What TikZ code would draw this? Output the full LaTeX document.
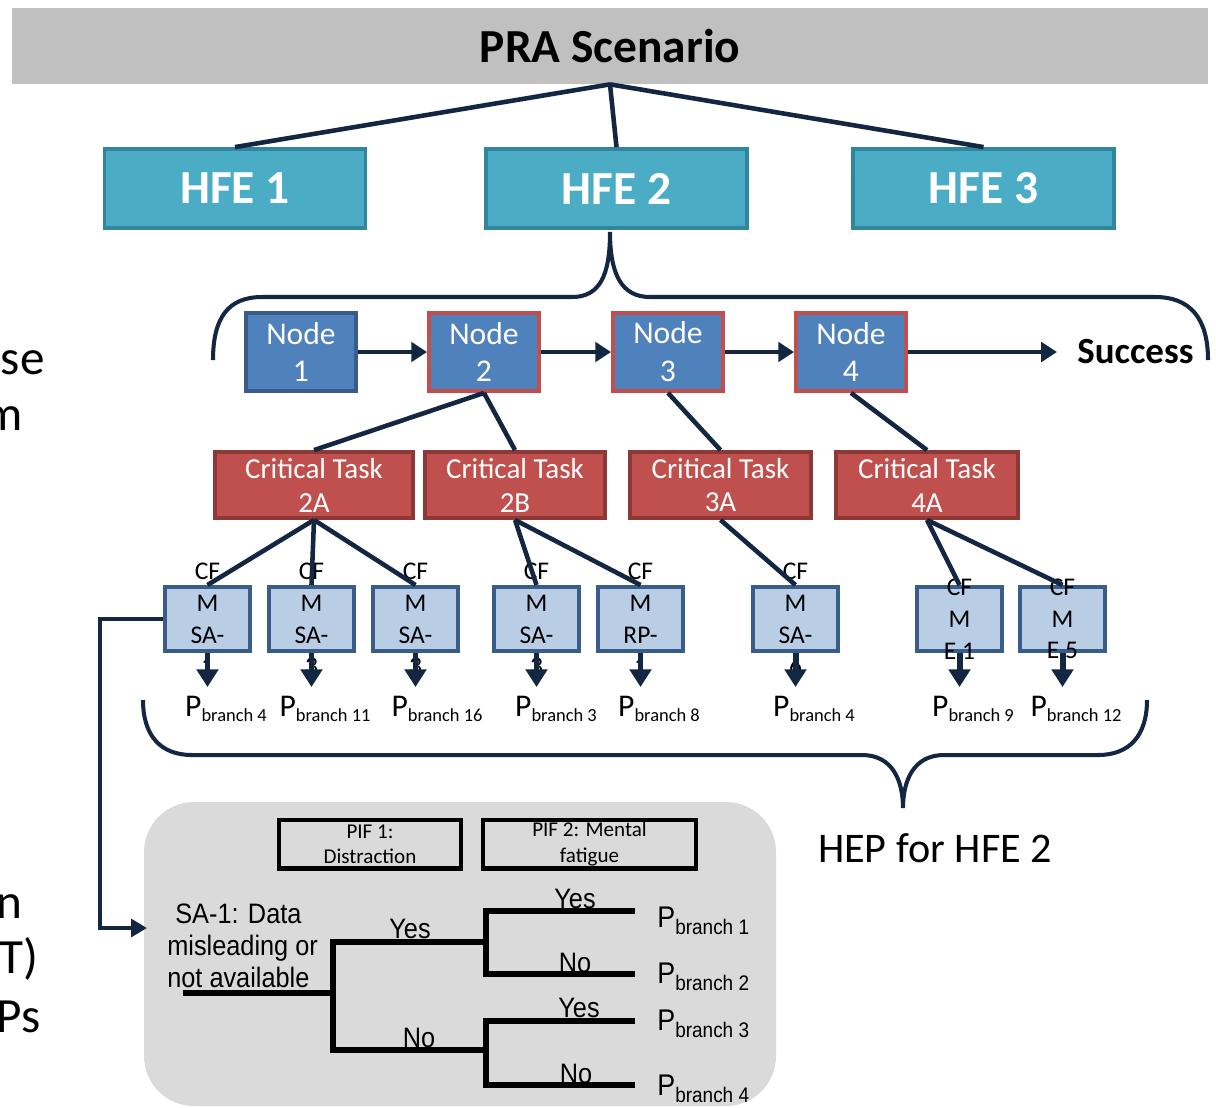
\documentclass[tikz,border=0pt]{standalone}
\usepackage{fontspec}
\setmainfont{Carlito}
\newfontfamily\treefont[FakeStretch=0.9]{Liberation Sans}
\usetikzlibrary{arrows.meta}

\definecolor{navy}{RGB}{19,39,66}
\definecolor{barfill}{RGB}{192,192,192}
\definecolor{hfefill}{RGB}{75,172,198}
\definecolor{hfeline}{RGB}{49,133,156}
\definecolor{nodefill}{RGB}{79,129,189}
\definecolor{nodeline}{RGB}{56,93,138}
\definecolor{redline}{RGB}{192,80,77}
\definecolor{critfill}{RGB}{192,80,77}
\definecolor{critline}{RGB}{140,56,54}
\definecolor{cfmfill}{RGB}{185,205,229}
\definecolor{panelfill}{RGB}{218,218,218}

% P with a lowered "branch n"
\newcommand\pbranch[1]{P\raisebox{-3pt}{\fontsize{10.5}{12}\selectfont branch #1}}
\newcommand\tbranch[1]{P\raisebox{-4pt}{\fontsize{12}{14}\selectfont branch #1}}

\tikzset{
  link/.style={navy, line width=2.6pt},
  brace/.style={navy, line width=2.3pt},
  flow/.style={navy, line width=2.8pt, -{Triangle[length=9pt,width=11pt]}},
  drop/.style={navy, line width=3.4pt, -{Triangle[length=10pt,width=12pt]}},
  topbar/.style={fill=barfill, minimum width=23.92cm, minimum height=1.52cm, inner sep=0pt, font=\fontsize{27}{30}\selectfont\bfseries},
  hfebox/.style={draw=hfeline, fill=hfefill, line width=2.2pt, minimum width=5.22cm, minimum height=1.58cm, inner sep=0pt, text=white, font=\fontsize{27}{30}\selectfont\bfseries},
  netnode/.style={draw=nodeline, fill=nodefill, line width=2.2pt, minimum width=2.2cm, minimum height=1.56cm, inner sep=0pt, align=center, text=white, font=\fontsize{18}{21.5}\selectfont},
  hotnode/.style={netnode, draw=redline},
  crittask/.style={draw=critline, fill=critfill, line width=2.2pt, minimum height=1.32cm, inner sep=0pt, align=center, text=white, font=\fontsize{16.5}{19.3}\selectfont},
  cfm/.style={draw=nodeline, fill=cfmfill, line width=2.3pt, minimum width=1.7cm, minimum height=1.28cm, inner sep=0pt},
  cfmtext/.style={align=center, inner sep=0pt, font=\fontsize{14.5}{18.1}\selectfont},
  plabel/.style={inner sep=0pt, anchor=base, font=\fontsize{18}{20}\selectfont},
  pifbox/.style={draw=black, line width=2.3pt, minimum height=0.98cm, inner sep=0pt, align=center, font=\fontsize{12}{14.4}\selectfont},
  treeline/.style={black, line width=3.4pt},
  treelabel/.style={inner sep=0pt, anchor=base, font=\treefont\fontsize{16}{17.6}\selectfont},
  cut/.style={inner sep=0pt, anchor=base east, font=\fontsize{28}{30}\selectfont},
}

\begin{document}
\begin{tikzpicture}[x=0.02cm,y=-0.02cm]
\useasboundingbox (0,0) rectangle (1216,1107);
\clip (0,0) rectangle (1216,1107);

% scenario and its HFEs
\node[topbar] (pra) at (610,46) {PRA Scenario};
\node[hfebox] (hfe1) at (235,188.5) {HFE 1};
\node[hfebox] (hfe2) at (616.5,188.5) {HFE 2};
\node[hfebox] (hfe3) at (983.5,188.5) {HFE 3};
\foreach \h in {hfe1,hfe2,hfe3}
	\draw[link] (pra.south) -- (\h.north);

% brace under HFE 2
\draw[brace] (213,360) .. controls (213,318) and (228,297) .. (262,297) -- (572,297)
	.. controls (600,297) and (610,275) .. (610,232)
	.. controls (610,275) and (622,297) .. (650,297) -- (1155,297)
	.. controls (1190,297) and (1208,318) .. (1208,360);

% nodes of the crew response tree
\node[netnode] (n1) at (301,352) {Node\\1};
\node[hotnode] (n2) at (484,352) {Node\\2};
\node[hotnode] (n3) at (668,352) {Node\\3};
\node[hotnode] (n4) at (851,352) {Node\\4};
\node[inner sep=0pt, anchor=west, font=\fontsize{21}{24}\selectfont\bfseries] (succ) at (1077,352) {Success};
\draw[flow] (n1) -- (n2);
\draw[flow] (n2) -- (n3);
\draw[flow] (n3) -- (n4);
\draw[flow, shorten >=0.4cm] (n4) -- (succ.west);

% critical tasks
\node[crittask, minimum width=3.96cm] (ct2a) at (314,485) {Critical Task\\2A};
\node[crittask, minimum width=3.6cm] (ct2b) at (515,485) {Critical Task\\2B};
\node[crittask, minimum width=3.62cm] (ct3a) at (720.5,485) {Critical Task\\3A};
\node[crittask, minimum width=3.64cm] (ct4a) at (927,485) {Critical Task\\4A};
\draw[link] (n2.south) -- (ct2a.north);
\draw[link] (n2.south) -- (ct2b.north);
\draw[link] (n3.south) -- (ct3a.north);
\draw[link] (n4.south) -- (ct4a.north);

% crew failure mechanisms
\foreach \n/\x in {1/207.5,2/311.5,3/415.5,4/536.5,5/640.5,6/795.5,7/959.5,8/1062.5}
	\node[cfm] (b\n) at (\x,619) {};
\foreach \n/\t/\d in {1/SA-/1,2/SA-/3,3/SA-/3,4/SA-/3,5/RP-/1,6/SA-/6}
	\node[cfmtext] at (b\n) {CF\\M\\\t\\\d};
\node[cfmtext] at (b7) {CF\\M\\E 1};
\node[cfmtext] at (b8) {CF\\M\\E 5};
\foreach \c/\b in {ct2a/b1,ct2a/b2,ct2a/b3,ct2b/b4,ct2b/b5,ct3a/b6,ct4a/b7,ct4a/b8}
	\draw[link] (\c.south) -- (\b.north);
\foreach \n in {1,...,8}
	\draw[drop] (b\n.south) -- ++(0,34);

% branch probabilities
\foreach \x/\p in {226/4,325/11,437/16,556/3,659/8,814/4,973/9,1076/12}
	\node[plabel] at (\x,716) {\pbranch{\p}};

% brace over the branches
\draw[brace] (143,700) .. controls (143,735) and (160,755) .. (192,755) -- (862,755)
	.. controls (892,755) and (903,780) .. (903,808)
	.. controls (903,780) and (914,755) .. (944,755) -- (1098,755)
	.. controls (1130,755) and (1147,735) .. (1147,700);
\node[font=\fontsize{24}{28}\selectfont] (hep) at (935,848) {HEP for HFE 2};

% decision tree panel
\fill[panelfill, rounded corners=1cm] (144,802) rectangle (776,1106);
\coordinate (panelin) at (147,928);
\draw[link, -{Triangle[length=9pt,width=10pt]}] (b1.west) -- ++(-63,0) |- (panelin);
\node[pifbox, minimum width=3.64cm] (pif1) at (370,844) {PIF 1:\\Distraction};
\node[pifbox, minimum width=4.26cm] (pif2) at (589.5,844) {PIF 2: Mental\\fatigue};

\draw[treeline] (183,993) -- (333,993);
\draw[treeline] (486,942) -- (333,942) -- (333,1050) -- (486,1050);
\draw[treeline] (635,911) -- (486,911) -- (486,974) -- (635,974);
\draw[treeline] (635,1021) -- (486,1021) -- (486,1085) -- (635,1085);

\node[treelabel, anchor=base west] at (175,923) {SA-1: Data};
\node[treelabel, anchor=base west] at (167,955) {misleading or};
\node[treelabel, anchor=base west] at (167,987) {not available};
\node[treelabel] at (410,938) {Yes};
\node[treelabel] at (419,1047) {No};
\node[treelabel] at (575,908) {Yes};
\node[treelabel] at (575,972) {No};
\node[treelabel] at (579,1017) {Yes};
\node[treelabel] at (576,1083) {No};
\foreach \y/\p in {927/1,983/2,1030/3,1095/4}
	\node[treelabel, anchor=base west, font=\treefont\fontsize{17}{19}\selectfont] at (657,\y) {\tbranch{\p}};

% text running in from the left
\node[cut] at (45,374) {se};
\node[cut] at (23,430) {m};
\node[cut] at (23,918) {n};
\node[cut] at (39,973) {DT)};
\node[cut] at (41,1032) {Ps};
\end{tikzpicture}
\end{document}
